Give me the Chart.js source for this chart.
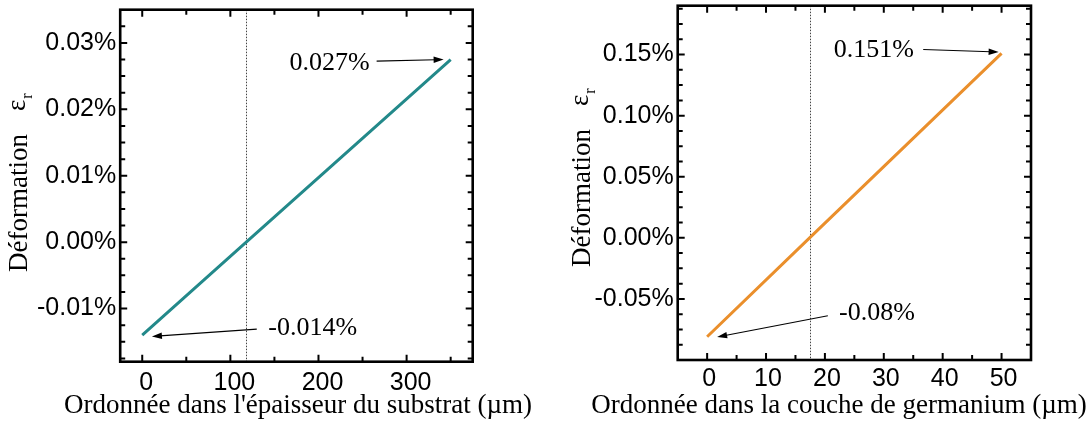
<!DOCTYPE html>
<html><head><meta charset="utf-8">
<script src="https://cdn.jsdelivr.net/npm/chart.js@4/dist/chart.umd.min.js"></script>
<style>
html,body{margin:0;padding:0;background:#fff;}
#wrap{position:relative;width:1089px;height:423px;overflow:hidden;background:#fff;}
.pane{position:absolute;top:0;height:423px;}
</style></head><body>
<div id="wrap">
<div class="pane" style="left:0;width:545px"><canvas id="c1" width="545" height="423"></canvas></div>
<div class="pane" style="left:545px;width:544px"><canvas id="c2" width="544" height="423"></canvas></div>
</div>
<script>
// ---- data ----
const substrateDepth  = [0, 118, 350];          // µm
const substrateStrain = [-0.014, 0, 0.0275];    // %
const germaniumDepth  = [0, 17.4, 50];          // µm
const germaniumStrain = [-0.081, 0, 0.151];     // %

const substrateXTicks = [0, 100, 200, 300];
const substrateYTicks = [-0.01, 0, 0.01, 0.02, 0.03];
const germaniumXTicks = [0, 10, 20, 30, 40, 50];
const germaniumYTicks = [-0.05, 0, 0.05, 0.10, 0.15];

const substrateNeutral = 118;   // µm, zero-strain line
const germaniumNeutral = 17.4;

const substrateLabels = ['0.027%', '-0.014%'];
const germaniumLabels = ['0.151%', '-0.08%'];

const xTitles = ["Ordonnée dans l'épaisseur du substrat (µm)", "Ordonnée dans la couche de germanium (µm)"];
const yTitle = 'Déformation';

// ---- styling ----
const SANS = '"Liberation Sans", Arial, Helvetica, sans-serif';
const SERIF = '"Liberation Serif", "Times New Roman", Times, serif';

function makeDecor(cfg) {
  return {
    id: 'decor_' + cfg.id,
    beforeDatasetsDraw(chart) {
      const {ctx, chartArea: a, scales: {x}} = chart;
      const px = Math.round(x.getPixelForValue(cfg.neutral)) + 0.5;
      ctx.save();
      ctx.strokeStyle = '#444'; ctx.lineWidth = 1; ctx.setLineDash([1.5, 1.5]);
      ctx.beginPath(); ctx.moveTo(px, a.top); ctx.lineTo(px, a.bottom); ctx.stroke();
      ctx.restore();
    },
    afterDraw(chart) {
      const {ctx, chartArea: a, scales: {x, y}} = chart;
      ctx.save();
      // ticks (inward, all four sides)
      ctx.strokeStyle = '#000'; ctx.lineWidth = 2;
      ctx.beginPath();
      const drawTicks = (scale, step, majors, horiz) => {
        const s = Math.ceil(scale.min / step - 1e-9), e = Math.floor(scale.max / step + 1e-9);
        for (let k = s; k <= e; k++) {
          const v = k * step;
          const p = scale.getPixelForValue(v);
          const major = majors.some(m => Math.abs(m - v) < step / 10);
          const len = major ? 7 : 5;
          if (horiz) {
            if (p <= a.left + 2 || p >= a.right - 2) continue;
            ctx.moveTo(p, a.bottom); ctx.lineTo(p, a.bottom - len);
            ctx.moveTo(p, a.top); ctx.lineTo(p, a.top + len);
          } else {
            if (p >= a.bottom - 2 || p <= a.top + 2) continue;
            ctx.moveTo(a.left, p); ctx.lineTo(a.left + len, p);
            ctx.moveTo(a.right, p); ctx.lineTo(a.right - len, p);
          }
        }
      };
      drawTicks(x, cfg.xMinor, cfg.xTicks, true);
      drawTicks(y, cfg.yMinor, cfg.yTicks, false);
      ctx.stroke();
      // frame
      ctx.lineWidth = 2.6;
      ctx.strokeRect(a.left, a.top, a.right - a.left, a.bottom - a.top);
      // annotations
      ctx.fillStyle = '#000';
      ctx.font = '26px ' + SERIF;
      ctx.textBaseline = 'middle';
      cfg.annotations.forEach(an => {
        ctx.textAlign = an.align;
        ctx.fillText(an.text, x.getPixelForValue(an.tx), y.getPixelForValue(an.ty));
        const x0 = x.getPixelForValue(an.from[0]), y0 = y.getPixelForValue(an.from[1]);
        const x1 = x.getPixelForValue(an.to[0]), y1 = y.getPixelForValue(an.to[1]);
        const ang = Math.atan2(y1 - y0, x1 - x0);
        const L = 10, W = 3.2;
        ctx.lineWidth = 1.1;
        ctx.beginPath();
        ctx.moveTo(x0, y0);
        ctx.lineTo(x1 - L * 0.8 * Math.cos(ang), y1 - L * 0.8 * Math.sin(ang));
        ctx.stroke();
        ctx.beginPath();
        ctx.moveTo(x1, y1);
        ctx.lineTo(x1 - L * Math.cos(ang) + W * Math.sin(ang), y1 - L * Math.sin(ang) - W * Math.cos(ang));
        ctx.lineTo(x1 - L * Math.cos(ang) - W * Math.sin(ang), y1 - L * Math.sin(ang) + W * Math.cos(ang));
        ctx.closePath(); ctx.fill();
      });
      // x title
      ctx.font = '27px ' + SERIF;
      ctx.textAlign = 'center'; ctx.textBaseline = 'alphabetic';
      ctx.fillText(cfg.xTitle, cfg.xTitleX, cfg.xTitleY);
      // y title with subscript
      ctx.translate(cfg.yTitleX, cfg.yTitleY);
      ctx.rotate(-Math.PI / 2);
      ctx.textAlign = 'left';
      ctx.fillText(yTitle, 0, 0);
      let w = ctx.measureText(yTitle).width + 23;
      ctx.fillText('ε', w, -2);
      w += ctx.measureText('ε').width + 1;
      ctx.font = '16px ' + SERIF;
      ctx.fillText('r', w, 5);
      ctx.restore();
    }
  };
}

function makeChart(canvasId, cfg) {
  const W = cfg.W, H = 423, a = cfg.area;
  return new Chart(document.getElementById(canvasId), {
    type: 'scatter',
    data: {
      datasets: [{
        data: cfg.xs.map((v, i) => ({x: v, y: cfg.ys[i]})),
        showLine: true, borderColor: cfg.color, backgroundColor: cfg.color,
        borderWidth: 3, pointRadius: 0, pointHoverRadius: 0, tension: 0, fill: false
      }]
    },
    options: {
      responsive: false, animation: false, devicePixelRatio: 1,
      layout: {autoPadding: false, padding: {left: 0, top: a.top, right: W - a.right, bottom: 0}},
      plugins: {legend: {display: false}, tooltip: {enabled: false}, title: {display: false}},
      scales: {
        x: {
          type: 'linear', position: 'bottom', min: cfg.xMin, max: cfg.xMax,
          afterFit(s) { s.height = H - a.bottom; s.paddingLeft = 0; s.paddingRight = 0; s.paddingTop = 0; s.paddingBottom = 0; },
          afterBuildTicks(s) { s.ticks = cfg.xTicks.map(v => ({value: v})); },
          grid: {display: false, drawTicks: false}, border: {display: false},
          ticks: {color: '#000', font: {family: SANS, size: 25}, padding: cfg.xPad, labelOffset: cfg.xLabelOffset,
                  maxRotation: 0, minRotation: 0, autoSkip: false, callback: v => String(v)}
        },
        y: {
          type: 'linear', position: 'left', min: cfg.yMin, max: cfg.yMax,
          afterFit(s) { s.width = a.left; s.paddingLeft = 0; s.paddingRight = 0; s.paddingTop = 0; s.paddingBottom = 0; },
          afterBuildTicks(s) { s.ticks = cfg.yTicks.map(v => ({value: v})); },
          grid: {display: false, drawTicks: false}, border: {display: false},
          ticks: {color: '#000', font: {family: SANS, size: 25}, padding: 4, autoSkip: false,
                  callback: v => Number(v).toFixed(2) + '%'}
        }
      }
    },
    plugins: [makeDecor(cfg)]
  });
}

makeChart('c1', {
  id: 1, W: 545, area: {left: 120.2, right: 472.7, top: 9.7, bottom: 361.7},
  xs: substrateDepth, ys: substrateStrain, color: '#23898a',
  xMin: -25, xMax: 375, yMin: -0.018, yMax: 0.035,
  xTicks: substrateXTicks, yTicks: substrateYTicks, xMinor: 50, yMinor: 0.0025,
  xPad: 6, xLabelOffset: 4,
  neutral: substrateNeutral,
  annotations: [
    {text: substrateLabels[0], tx: 258, ty: 0.02695, align: 'right', from: [266, 0.02725], to: [342, 0.0275]},
    {text: substrateLabels[1], tx: 143, ty: -0.0129, align: 'left', from: [130, -0.0131], to: [11, -0.0142]}
  ],
  xTitle: xTitles[0], xTitleX: 298, xTitleY: 413,
  yTitleX: 27, yTitleY: 272
});

makeChart('c2', {
  id: 2, W: 544, area: {left: 132.7, right: 486, top: 5.7, bottom: 360},
  xs: germaniumDepth, ys: germaniumStrain, color: '#ea8f2c',
  xMin: -5, xMax: 55, yMin: -0.10, yMax: 0.19,
  xTicks: germaniumXTicks, yTicks: germaniumYTicks, xMinor: 5, yMinor: 0.0125,
  xPad: 4, xLabelOffset: 2,
  neutral: germaniumNeutral,
  annotations: [
    {text: germaniumLabels[0], tx: 35.1, ty: 0.1535, align: 'right', from: [36.7, 0.1541], to: [49.5, 0.1521]},
    {text: germaniumLabels[1], tx: 22.4, ty: -0.0614, align: 'left', from: [20.5, -0.0638], to: [1.7, -0.0812]}
  ],
  xTitle: xTitles[1], xTitleX: 294, xTitleY: 413,
  yTitleX: 45, yTitleY: 267
});
</script>
</body></html>
